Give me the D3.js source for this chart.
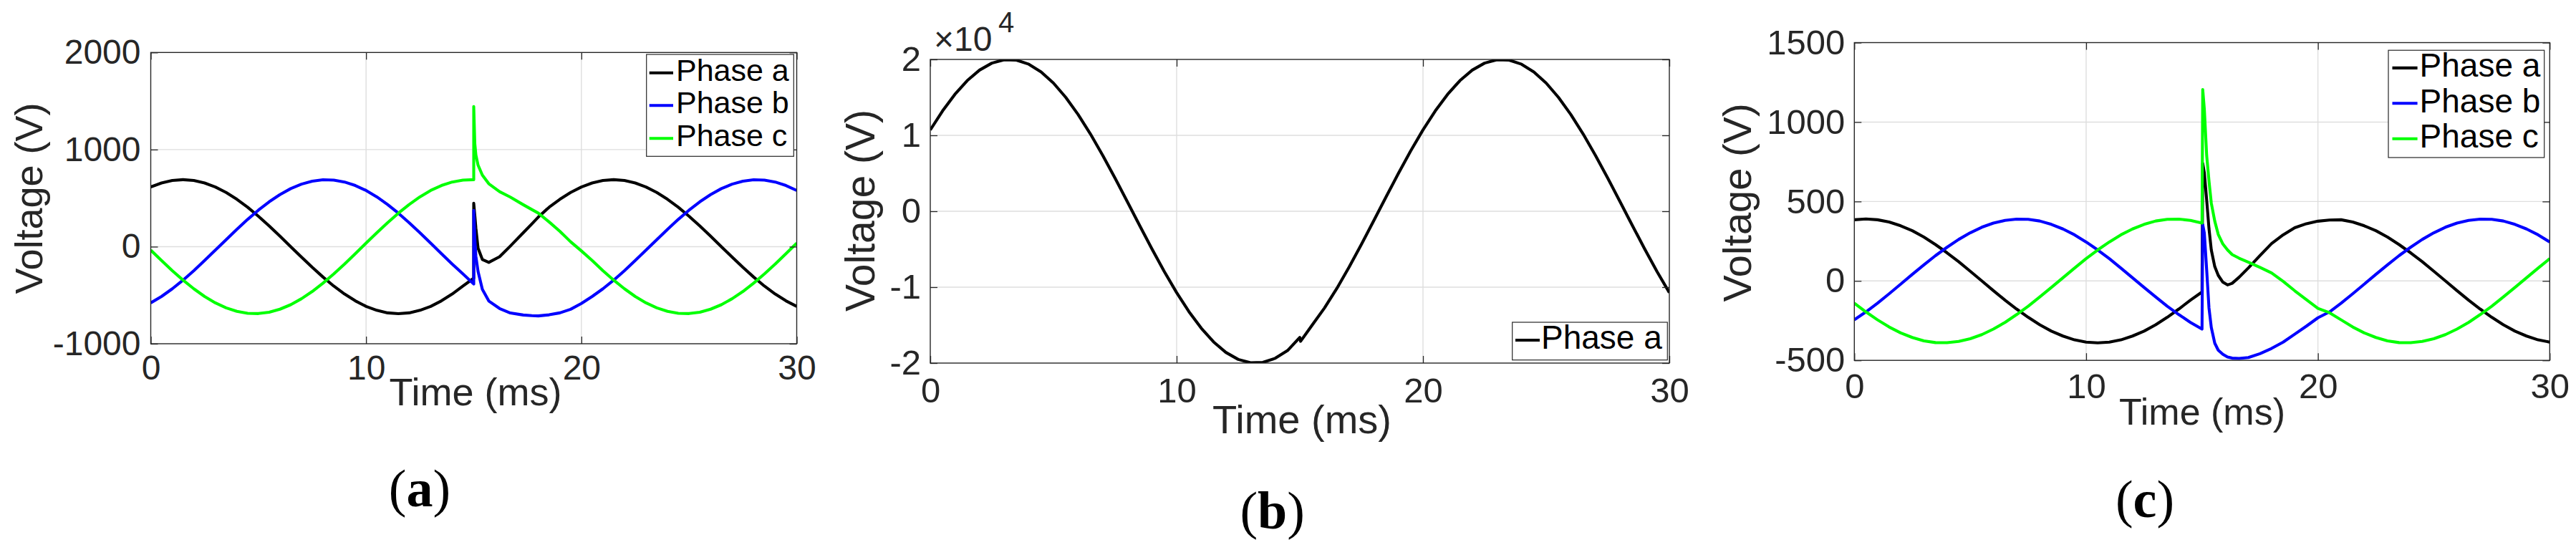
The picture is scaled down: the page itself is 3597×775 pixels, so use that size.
<!DOCTYPE html>
<html>
<head>
<meta charset="utf-8">
<script src="https://cdn.jsdelivr.net/npm/d3@7"></script>
<style>
html,body{margin:0;padding:0;background:#ffffff;}
svg{display:block;}
</style>
</head>
<body>
<svg id="chart" width="3597" height="775"></svg>
<script>
// ---------------- DATA ----------------
const seriesNames = ["Phase a", "Phase b", "Phase c"];
const xTicks = [0, 10, 20, 30];
const yTicksA = [-1000, 0, 1000, 2000];
const yTicksB = [-20000, -10000, 0, 10000, 20000];
const yTickLabelsB = ["-2", "-1", "0", "1", "2"];
const yTicksC = [-500, 0, 500, 1000, 1500];
const captions = ["a", "b", "c"];

// Panel (a): time (ms)
const timeA = [0,0.5,1,1.5,2,2.5,3,3.5,4,4.5,5,5.5,6,6.5,7,7.5,8,8.5,9,9.5,10,10.5,11,11.5,12,12.5,13,13.5,14,14.5,15,
  15,15.05,15.1,15.2,15.4,15.7,16.2,16.7,17.3,17.7,
  18,18.5,19,19.5,20,20.5,21,21.5,22,22.5,23,23.5,24,24.5,25,25.5,26,26.5,27,27.5,28,28.5,29,29.5,30];
const phaseA_a = [615,656,682,690,682,656,615,558,488,406,313,213,108,0,-108,-213,-313,-406,-488,-558,-615,-656,-682,-690,-682,-656,-615,-558,-488,-406,-325,
  447,320,190,-15,-132,-162,-104,6,143,235,
  305,406,488,558,615,656,682,690,682,656,615,558,488,406,313,213,108,0,-108,-213,-313,-406,-488,-558,-615];
const phaseA_b = [-579,-513,-434,-345,-247,-143,-36,72,179,281,376,462,536,598,644,675,689,686,666,630,579,513,434,345,247,143,36,-72,-179,-281,-385,
  374,80,-100,-255,-440,-560,-637,-683,-704,-711,
  -713,-702,-682,-645,-585,-513,-434,-345,-247,-143,-36,72,179,281,376,462,536,598,644,675,689,686,666,630,579];
const phaseA_c = [-36,-143,-247,-345,-434,-513,-579,-630,-666,-686,-689,-675,-644,-598,-536,-462,-376,-281,-179,-72,36,143,247,345,434,513,579,630,666,686,690,
  1443,1060,945,840,737,648,567,510,432,382,
  345,255,158,50,-44,-143,-247,-345,-434,-513,-579,-630,-666,-686,-689,-675,-644,-598,-536,-462,-376,-281,-179,-72,36];

// Panel (b)
const timeB = [0,0.5,1,1.5,2,2.5,3,3.5,4,4.5,5,5.5,6,6.5,7,7.5,8,8.5,9,9.5,10,10.5,11,11.5,12,12.5,13,13.5,14,14.5,
  15,15.03,
  15.5,16,16.5,17,17.5,18,18.5,19,19.5,20,20.5,21,21.5,22,22.5,23,23.5,24,24.5,25,25.5,26,26.5,27,27.5,28,28.5,29,29.5,30];
const phaseB_a = [10716,13226,15410,17215,18596,19518,19960,19911,19372,18355,16888,15002,12748,10181,7364,4363,1256,-1882,-4974,-7943,-10716,-13226,-15410,-17215,-18596,-19518,-19960,-19911,-19372,-18355,
  -16620,-17130,
  -15002,-12748,-10181,-7364,-4363,-1256,1882,4974,7943,10716,13226,15410,17215,18596,19518,19960,19911,19372,18355,16888,15002,12748,10181,7364,4363,1256,-1882,-4974,-7943,-10716];

// Panel (c)
const timeC = [0,0.5,1,1.5,2,2.5,3,3.5,4,4.5,5,5.5,6,6.5,7,7.5,8,8.5,9,9.5,10,10.5,11,11.5,12,12.5,13,13.5,14,14.5,15,
  15.03,15.1,15.2,15.3,15.4,15.55,15.7,15.9,16.1,16.3,16.6,17,17.5,18,18.5,19,19.5,20,
  20.5,21,21.5,22,22.5,23,23.5,24,24.5,25,25.5,26,26.5,27,27.5,28,28.5,29,29.5,30];
const phaseC_a = [385,390,385,371,347,316,276,229,177,121,61,0,-61,-121,-177,-229,-276,-316,-347,-371,-385,-390,-385,-371,-347,-316,-276,-229,-177,-121,-70,
  740,680,510,330,195,90,35,-8,-25,-15,23,82,160,235,290,335,360,376,
  383,385,371,347,316,276,229,177,121,61,0,-61,-121,-177,-229,-276,-316,-347,-371,-385];
const phaseC_b = [-245,-195,-140,-81,-20,41,101,159,212,261,303,338,364,381,389,388,377,356,327,290,245,195,140,81,20,-41,-101,-159,-212,-261,-303,
  355,300,70,-170,-293,-392,-436,-462,-479,-486,-488,-482,-458,-425,-385,-335,-285,-232,
  -195,-140,-81,-20,41,101,159,212,261,303,338,364,381,389,388,377,356,327,290,245];
const phaseC_c = [-140,-195,-245,-290,-327,-356,-377,-388,-389,-381,-364,-338,-303,-261,-212,-159,-101,-41,20,81,140,195,245,290,327,356,377,388,389,381,364,
  1205,1080,790,630,490,376,293,232,195,166,143,118,85,50,-3,-62,-118,-173,
  -200,-245,-290,-327,-356,-377,-388,-389,-381,-364,-338,-303,-261,-212,-159,-101,-41,20,81,140];

// ---------------- STYLE / LAYOUT ----------------
const colors = ["#000000", "#0000ff", "#00ff00"];
const SANS = "'Liberation Sans', Arial, Helvetica, sans-serif";
const SERIF = "'Liberation Serif', 'Times New Roman', serif";
const AXC = "#262626";
const GRIDC = "#dedede";
const LW = 4.1;

const panels = [
  { id: "a", x0: 210.5, x1: 1112.5, y0: 73.3, y1: 480, yDomain: [-1000, 2000], yTicks: yTicksA, yFmt: d => String(d),
    time: timeA, series: [phaseA_a, phaseA_b, phaseA_c], tickFont: 48, xPad: 16, yPad: 14,
    ylab: { x: 58.7, y: 277, size: 54 }, xlab: { x: 664, y: 566, size: 54 },
    legend: { x: 902.7, y: 76, w: 205.6, h: 142.3, rows: [101.7, 147.3, 193.3], lx0: 906.7, lx1: 940, tx: 944, off: 11, size: 43 },
    cap: { x: 586, y: 706.7, letter: captions[0] } },
  { id: "b", x0: 1299, x1: 2331, y0: 83, y1: 507, yDomain: [-20000, 20000], yTicks: yTicksB, yFmt: (d, i) => yTickLabelsB[i],
    time: timeB, series: [phaseB_a], tickFont: 49, xPad: 20, yPad: 13,
    ylab: { x: 1221, y: 294, size: 57 }, xlab: { x: 1818, y: 605, size: 56 },
    legend: { x: 2111.7, y: 450, w: 216.6, h: 52.7, rows: [475], lx0: 2116, lx1: 2150, tx: 2152, off: 11.7, size: 46 },
    cap: { x: 1776.7, y: 738, letter: captions[1] },
    expo: true },
  { id: "c", x0: 2589.3, x1: 3560.3, y0: 59.5, y1: 503.2, yDomain: [-500, 1500], yTicks: yTicksC, yFmt: d => String(d),
    time: timeC, series: [phaseC_a, phaseC_b, phaseC_c], tickFont: 49, xPad: 18, yPad: 13,
    ylab: { x: 2445, y: 283, size: 56 }, xlab: { x: 3075, y: 593, size: 52 },
    legend: { x: 3335, y: 70.2, w: 217.7, h: 149.8, rows: [94.9, 144.3, 193.8], lx0: 3340.5, lx1: 3375.6, tx: 3378.6, off: 12.5, size: 46 },
    cap: { x: 2995, y: 722, letter: captions[2] } }
];

const svg = d3.select("#chart");
svg.append("rect").attr("width", 3597).attr("height", 775).attr("fill", "#ffffff");

panels.forEach(p => {
  const x = d3.scaleLinear().domain([0, 30]).range([p.x0, p.x1]);
  const y = d3.scaleLinear().domain(p.yDomain).range([p.y1, p.y0]);
  const g = svg.append("g").attr("class", "panel-" + p.id);

  // grid
  const xg = xTicks.filter(v => v > 0 && v < 30);
  const yg = p.yTicks.filter(v => v > p.yDomain[0] && v < p.yDomain[1]);
  g.append("g").selectAll("line").data(xg).join("line")
    .attr("x1", d => x(d)).attr("x2", d => x(d)).attr("y1", p.y0).attr("y2", p.y1)
    .attr("stroke", GRIDC).attr("stroke-width", 1.4);
  g.append("g").selectAll("line").data(yg).join("line")
    .attr("x1", p.x0).attr("x2", p.x1).attr("y1", d => y(d)).attr("y2", d => y(d))
    .attr("stroke", GRIDC).attr("stroke-width", 1.4);

  // data lines
  const clipId = "clip-" + p.id;
  g.append("clipPath").attr("id", clipId).append("rect")
    .attr("x", p.x0).attr("y", p.y0).attr("width", p.x1 - p.x0).attr("height", p.y1 - p.y0);
  const line = d3.line().x(d => x(d[0])).y(d => y(d[1])).curve(d3.curveLinear);
  p.series.forEach((vals, si) => {
    const pts = p.time.map((t, i) => [t, vals[i]]);
    g.append("path").datum(pts).attr("d", line)
      .attr("fill", "none").attr("stroke", colors[si]).attr("stroke-width", LW)
      .attr("stroke-linejoin", "round").attr("clip-path", `url(#${clipId})`);
  });

  // axes (inner ticks on all four sides)
  const styleAxis = sel => {
    sel.select(".domain").remove();
    sel.attr("font-family", SANS).attr("font-size", p.tickFont);
    sel.selectAll(".tick line").attr("stroke", AXC).attr("stroke-width", 1.3);
    sel.selectAll(".tick text").attr("fill", AXC);
  };
  g.append("g").attr("transform", `translate(0,${p.y1})`)
    .call(d3.axisBottom(x).tickValues(xTicks).tickSizeInner(-10).tickSizeOuter(0).tickPadding(p.xPad).tickFormat(d => String(d)))
    .call(styleAxis);
  g.append("g").attr("transform", `translate(0,${p.y0})`)
    .call(d3.axisTop(x).tickValues(xTicks).tickSizeInner(-10).tickSizeOuter(0).tickFormat(""))
    .call(styleAxis);
  g.append("g").attr("transform", `translate(${p.x0},0)`)
    .call(d3.axisLeft(y).tickValues(p.yTicks).tickSizeInner(-10).tickSizeOuter(0).tickPadding(p.yPad).tickFormat(p.yFmt))
    .call(styleAxis);
  g.append("g").attr("transform", `translate(${p.x1},0)`)
    .call(d3.axisRight(y).tickValues(p.yTicks).tickSizeInner(-10).tickSizeOuter(0).tickFormat(""))
    .call(styleAxis);

  // frame
  g.append("rect").attr("x", p.x0).attr("y", p.y0).attr("width", p.x1 - p.x0).attr("height", p.y1 - p.y0)
    .attr("fill", "none").attr("stroke", AXC).attr("stroke-width", 1.4);

  // axis labels
  g.append("text").attr("transform", `translate(${p.ylab.x},${p.ylab.y}) rotate(-90)`)
    .attr("text-anchor", "middle").attr("font-family", SANS).attr("font-size", p.ylab.size)
    .attr("fill", AXC).text("Voltage (V)");
  g.append("text").attr("x", p.xlab.x).attr("y", p.xlab.y)
    .attr("text-anchor", "middle").attr("font-family", SANS).attr("font-size", p.xlab.size)
    .attr("fill", AXC).text("Time (ms)");

  // exponent for panel b
  if (p.expo) {
    g.append("text").attr("x", 1304).attr("y", 71).attr("font-family", SANS).attr("font-size", 48)
      .attr("fill", AXC).text("\u00d710");
    g.append("text").attr("x", 1394).attr("y", 45).attr("font-family", SANS).attr("font-size", 40)
      .attr("fill", AXC).text("4");
  }

  // legend
  const L = p.legend;
  const lg = g.append("g").attr("class", "legend");
  lg.append("rect").attr("x", L.x).attr("y", L.y).attr("width", L.w).attr("height", L.h)
    .attr("fill", "#ffffff").attr("stroke", AXC).attr("stroke-width", 1.2);
  p.series.forEach((vals, si) => {
    lg.append("line").attr("x1", L.lx0).attr("x2", L.lx1).attr("y1", L.rows[si]).attr("y2", L.rows[si])
      .attr("stroke", colors[si]).attr("stroke-width", LW);
    lg.append("text").attr("x", L.tx).attr("y", L.rows[si] + L.off)
      .attr("font-family", SANS).attr("font-size", L.size).attr("fill", "#000000")
      .text(seriesNames[si]);
  });

  // caption
  const cap = g.append("text").attr("x", p.cap.x).attr("y", p.cap.y).attr("text-anchor", "middle")
    .attr("font-family", SERIF).attr("font-size", 74).attr("fill", "#000000");
  cap.append("tspan").text("(");
  cap.append("tspan").attr("font-weight", "bold").text(p.cap.letter);
  cap.append("tspan").text(")");
});
</script>
</body>
</html>
